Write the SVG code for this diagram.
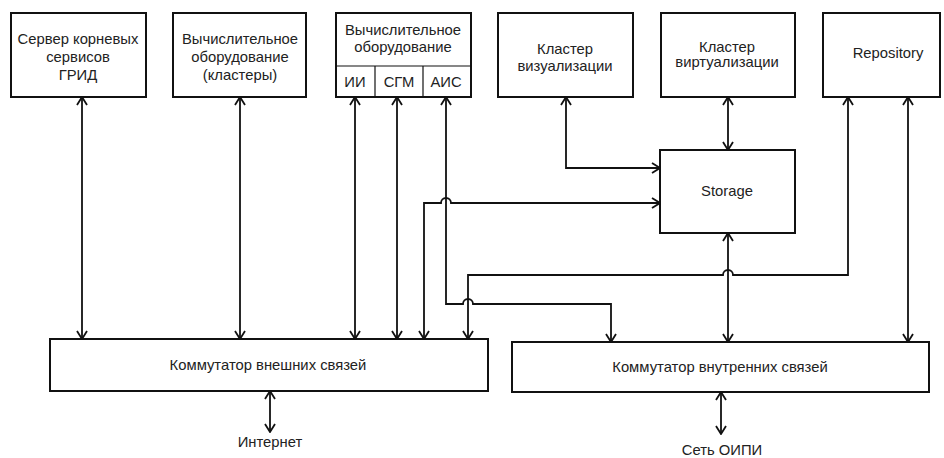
<svg xmlns="http://www.w3.org/2000/svg" width="944" height="458" viewBox="0 0 944 458">
<style>
.box{fill:#fff;stroke:#111;stroke-width:2}
.div{fill:none;stroke:#111;stroke-width:1.2}
.ln{fill:none;stroke:#111;stroke-width:1.8;marker-start:url(#arr);marker-end:url(#arr)}
text{font-family:"Liberation Sans",Arial,sans-serif;font-size:14.8px;fill:#222;text-anchor:middle}
</style>
<defs>
<marker id="arr" viewBox="0 0 10 12" refX="9" refY="6" markerWidth="10" markerHeight="12" markerUnits="userSpaceOnUse" orient="auto-start-reverse">
<path d="M1,1 L9,6 L1,11" fill="none" stroke="#111" stroke-width="1.8"/>
</marker>
</defs>
<rect width="944" height="458" fill="#fff"/>
<g id="server">
<rect class="box" x="11" y="13" width="135" height="84"/>
<text x="78" y="44">Сервер корневых</text>
<text x="78" y="62">сервисов</text>
<text x="78" y="80">ГРИД</text>
</g>
<g id="compute1">
<rect class="box" x="173" y="13" width="133" height="84"/>
<text x="240" y="44">Вычислительное</text>
<text x="240" y="62">оборудование</text>
<text x="240" y="80">(кластеры)</text>
</g>
<g id="compute2">
<rect class="box" x="336" y="13" width="135" height="84"/>
<line class="div" x1="336" y1="66" x2="471" y2="66"/>
<line class="div" x1="375" y1="66" x2="375" y2="97"/>
<line class="div" x1="423" y1="66" x2="423" y2="97"/>
<text x="403" y="35">Вычислительное</text>
<text x="403" y="52">оборудование</text>
<text x="355" y="87">ИИ</text>
<text x="399" y="87">СГМ</text>
<text x="446" y="87">АИС</text>
</g>
<g id="viz">
<rect class="box" x="498" y="13" width="135" height="84"/>
<text x="565" y="54">Кластер</text>
<text x="565" y="71">визуализации</text>
</g>
<g id="virt">
<rect class="box" x="661" y="13" width="134" height="84"/>
<text x="727" y="52">Кластер</text>
<text x="727" y="67">виртуализации</text>
</g>
<g id="repo">
<rect class="box" x="823" y="13" width="117" height="84"/>
<text x="888" y="58">Repository</text>
</g>
<g id="storage">
<rect class="box" x="660" y="150" width="135" height="83"/>
<text x="727" y="196">Storage</text>
</g>
<g id="ext-switch">
<rect class="box" x="50" y="339" width="438" height="52"/>
<text x="268" y="370">Коммутатор внешних связей</text>
</g>
<g id="int-switch">
<rect class="box" x="512" y="342" width="417" height="50"/>
<text x="720" y="372">Коммутатор внутренних связей</text>
</g>
<g id="internet">
<text x="270" y="447">Интернет</text>
</g>
<g id="oipi">
<text x="722" y="455">Сеть ОИПИ</text>
</g>
<g id="connectors">
<path class="ln" d="M82,97 L82,339"/>
<path class="ln" d="M240,97 L240,339"/>
<path class="ln" d="M355,97 L355,339"/>
<path class="ln" d="M397,97 L397,339"/>
<path class="ln" d="M424,339 L424,203 L441,203 A5,5 0 0 1 451,203 L660,203"/>
<path class="ln" d="M446,97 L446,304 L463,304 A5,5 0 0 1 473,304 L611,304 L611,342"/>
<path class="ln" d="M468,339 L468,275 L723,275 A5,5 0 0 1 733,275 L848,275 L848,97"/>
<path class="ln" d="M566,97 L566,168 L660,168"/>
<path class="ln" d="M728,97 L728,150"/>
<path class="ln" d="M728,233 L728,342"/>
<path class="ln" d="M908,97 L908,342"/>
<path class="ln" d="M270,391 L270,432"/>
<path class="ln" d="M721,392 L721,434"/>
</g>
</svg>
